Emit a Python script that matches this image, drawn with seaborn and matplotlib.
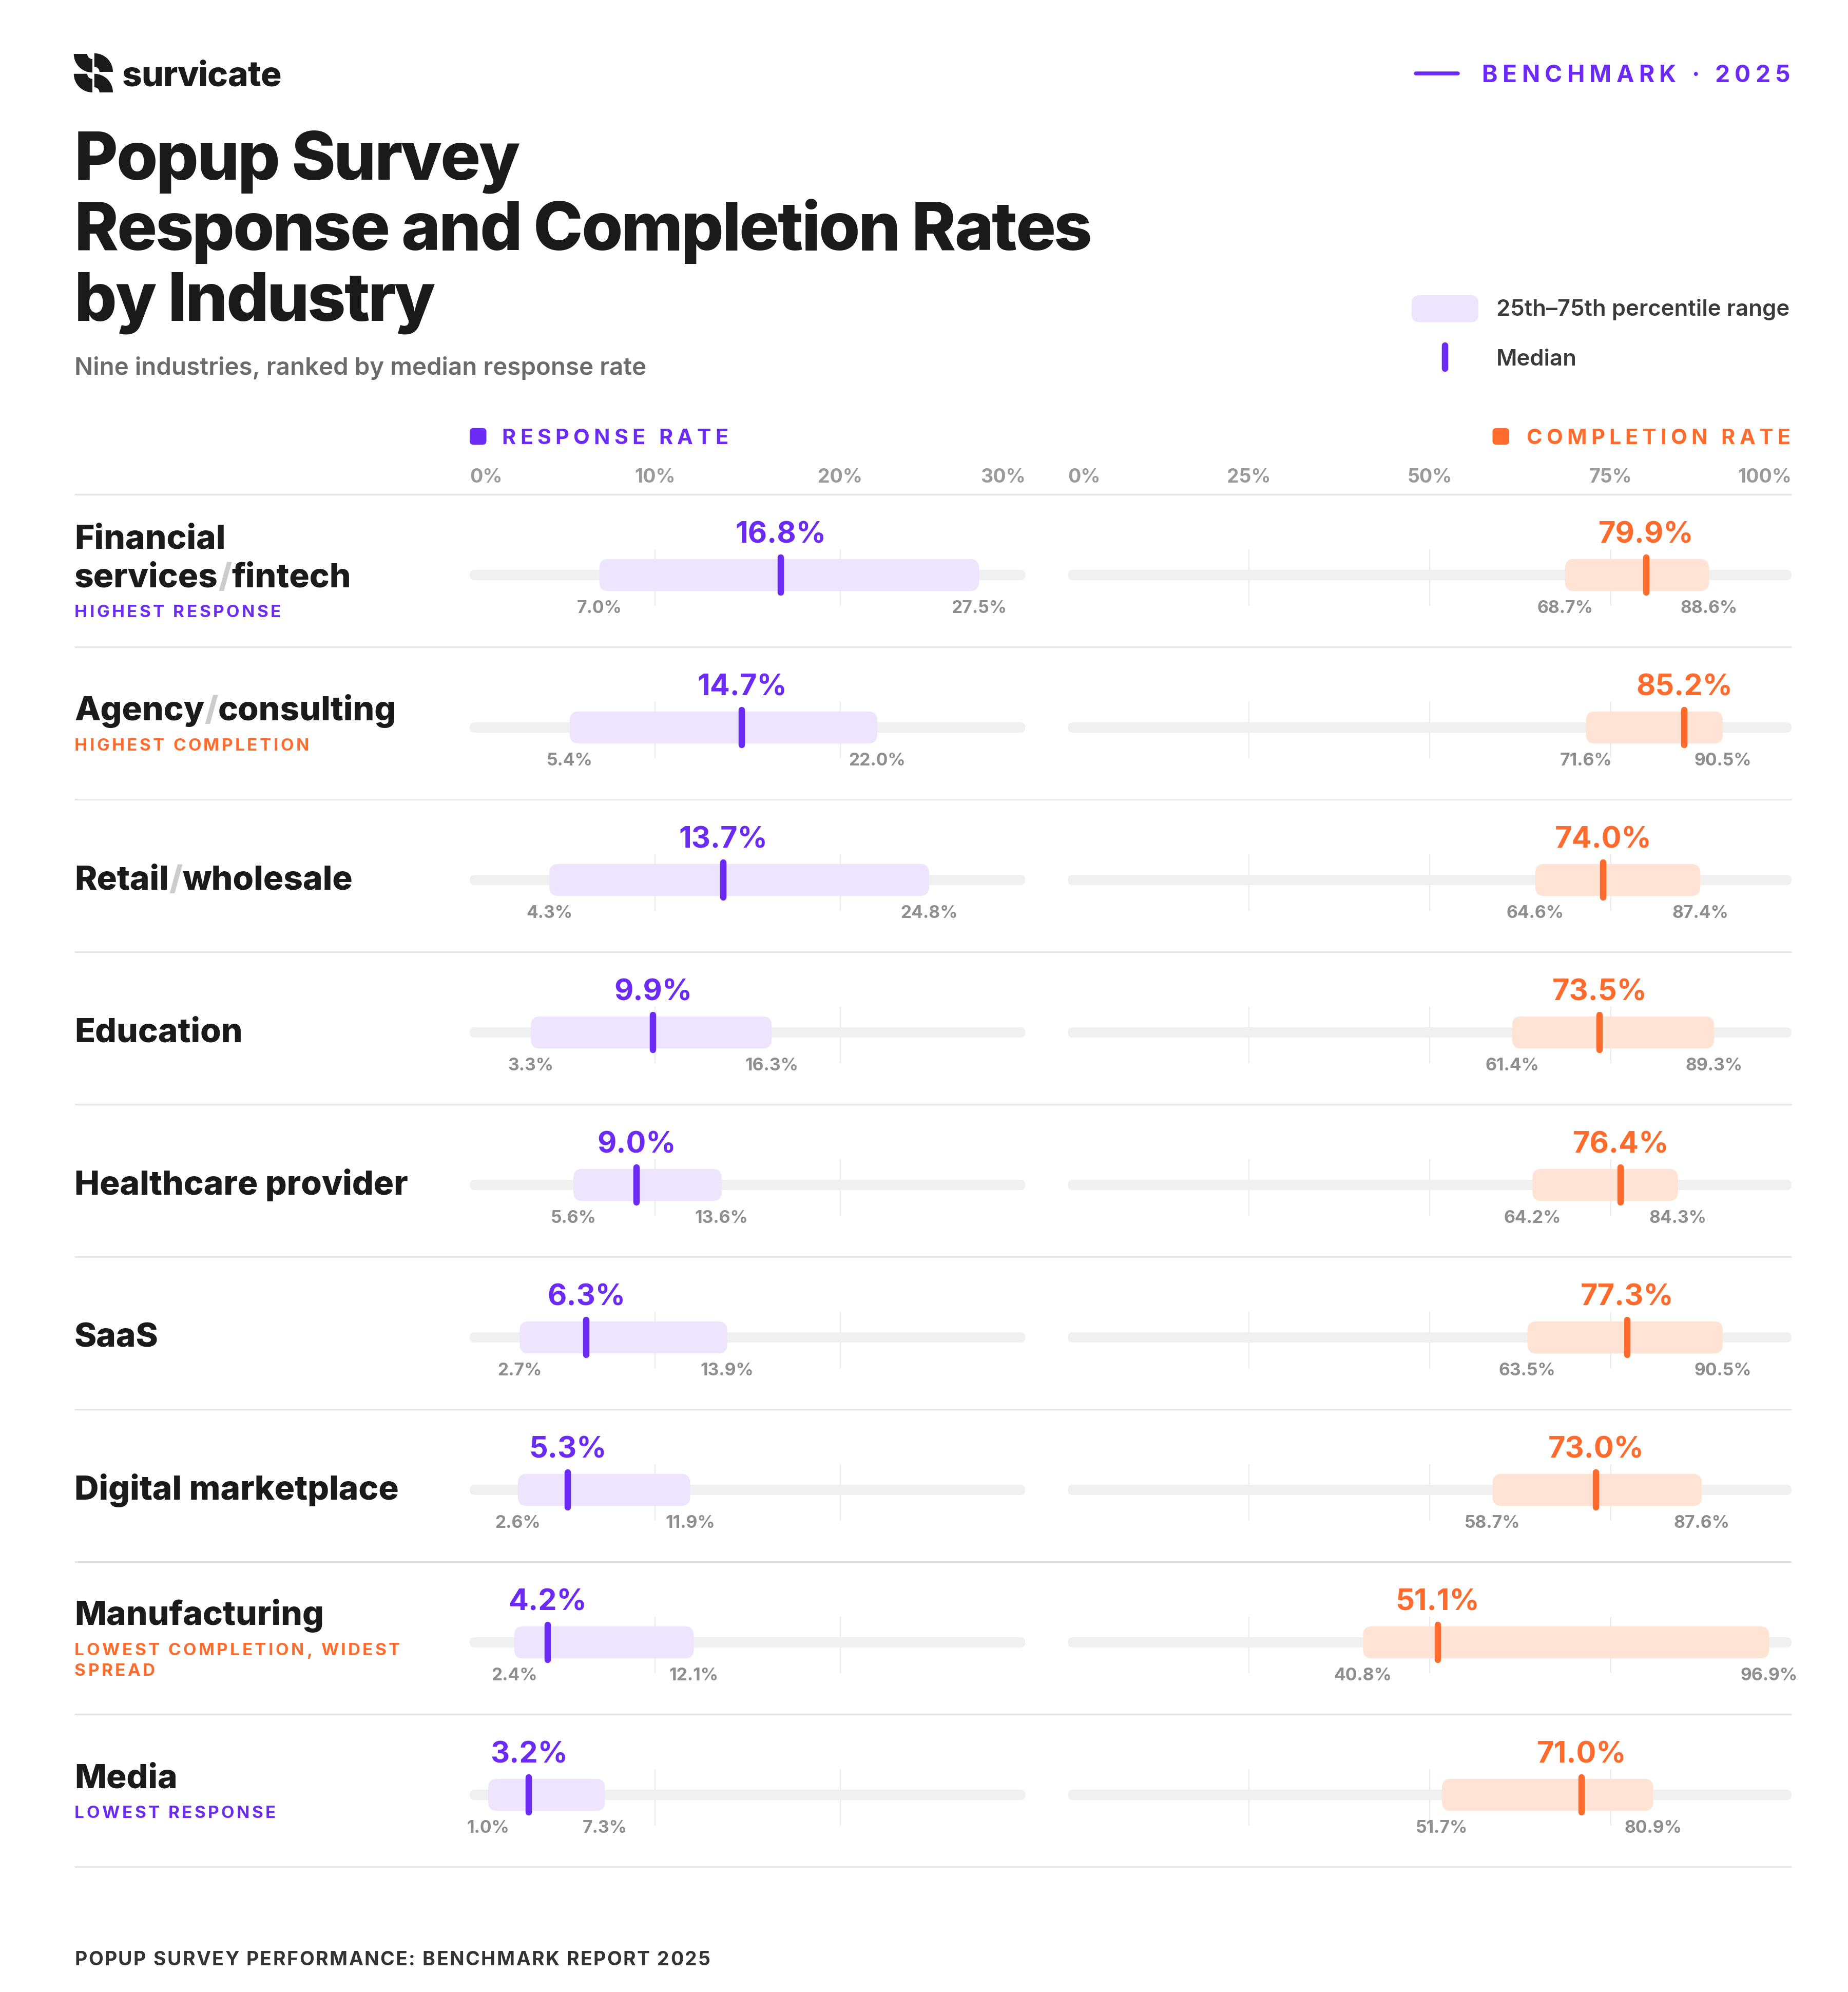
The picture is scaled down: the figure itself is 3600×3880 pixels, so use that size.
"""
Popup survey benchmark: response and completion rate ranges by industry.
"""

import matplotlib
matplotlib.use("Agg")
import numpy as np
import pandas as pd
import matplotlib.pyplot as plt
import seaborn as sns
from matplotlib.patches import FancyBboxPatch, Wedge

# ---- data -------------------------------------------------------------
industries = [
    "Financial\nservices/fintech", "Agency/consulting", "Retail/wholesale",
    "Education", "Healthcare provider", "SaaS", "Digital marketplace",
    "Manufacturing", "Media",
]
notes = [
    "HIGHEST RESPONSE", "HIGHEST COMPLETION", "", "", "", "", "",
    "LOWEST COMPLETION, WIDEST\nSPREAD", "LOWEST RESPONSE",
]
note_kind = ["response", "completion", None, None, None, None, None,
             "completion", "response"]

resp_median = [16.8, 14.7, 13.7, 9.9, 9.0, 6.3, 5.3, 4.2, 3.2]
resp_p25 = [7.0, 5.4, 4.3, 3.3, 5.6, 2.7, 2.6, 2.4, 1.0]
resp_p75 = [27.5, 22.0, 24.8, 16.3, 13.6, 13.9, 11.9, 12.1, 7.3]

comp_median = [79.9, 85.2, 74.0, 73.5, 76.4, 77.3, 73.0, 51.1, 71.0]
comp_p25 = [68.7, 71.6, 64.6, 61.4, 64.2, 63.5, 58.7, 40.8, 51.7]
comp_p75 = [88.6, 90.5, 87.4, 89.3, 84.3, 90.5, 87.6, 96.9, 80.9]

resp_ticks = [0, 10, 20, 30]
comp_ticks = [0, 25, 50, 75, 100]

# ---- style ------------------------------------------------------------
INK = "#1a1a1a"
PURPLE = "#6c2bf5"
PURPLE_LIGHT = "#ece5fd"
ORANGE = "#ff6b2c"
ORANGE_LIGHT = "#ffe4d6"
TRACK = "#f0f0f0"
RULE = "#e6e6e6"
GRID = "#ececec"
TICK = "#9a9a9a"
RANGE_TXT = "#8e8e8e"
SUB = "#6b6b6b"
DARK = "#3a3a3a"
SLASH = "#cccccc"

W, H = 1440, 1552          # layout units (1 unit = 2.5 output px)
SCALE = 2.5
PT = 0.72                  # points per layout unit
TOP, ROW_H = 385, 118.8
ROW_OFF = 63

sns.set_theme(style="white")
plt.rcParams["font.family"] = ["Inter", "DejaVu Sans"]

df = pd.DataFrame({
    "industry": industries, "note": notes, "kind": note_kind,
    "r_med": resp_median, "r_lo": resp_p25, "r_hi": resp_p75,
    "c_med": comp_median, "c_lo": comp_p25, "c_hi": comp_p75,
})

fig = plt.figure(figsize=(W / 100, H / 100), dpi=250)
fig.patch.set_facecolor("white")
bg = fig.add_axes([0, 0, 1, 1], zorder=0)
bg.set_xlim(0, W)
bg.set_ylim(H, 0)
bg.axis("off")
renderer = fig.canvas.get_renderer()

_adv_cache = {}


def advance(s, px, weight):
    key = (s, px, weight)
    if key not in _adv_cache:
        def width(t):
            tt = bg.text(0, 0, t, fontsize=px * PT, fontweight=weight)
            w = tt.get_window_extent(renderer=renderer).width
            tt.remove()
            return w
        _adv_cache[key] = (width("H" + s + "H") - width("HH")) / SCALE
    return _adv_cache[key]


def runs_text(x, y, runs, px, weight="bold", spacing=0.0, ha="left"):
    """Draw coloured text runs on a baseline, with optional letter spacing."""
    pieces = []
    for s, c in runs:
        if spacing:
            pieces += [(ch, c) for ch in s]
        else:
            pieces.append((s, c))
    widths = [advance(p, px, weight) for p, _ in pieces]
    total = sum(widths) + spacing * (len(pieces) - 1)
    if ha == "right":
        x -= total
    elif ha == "center":
        x -= total / 2
    for (p, c), w in zip(pieces, widths):
        bg.text(x, y, p, fontsize=px * PT, fontweight=weight, color=c,
                ha="left", va="baseline")
        x += w + spacing
    return total


def slash_runs(line):
    parts = line.split("/")
    runs = []
    for k, p in enumerate(parts):
        if k:
            runs.append(("/", SLASH))
        runs.append((p, INK))
    return runs


# ---- header -----------------------------------------------------------
# logo mark: four quarter discs with a small bite at the corner
for cx, cy, t1, t2 in [(72, 42, 90, 180), (73.5, 56, 270, 360),
                       (72, 57.5, 90, 180), (73.5, 72, 270, 360)]:
    bg.add_patch(Wedge((cx, cy), 14.5, t1, t2, width=10.5, color=INK, lw=0))
runs_text(95, 67, [("survicate", INK)], 27, weight="heavy", spacing=-0.3)

bg.plot([1103, 1136], [57, 57], color=PURPLE, lw=3 * PT, solid_capstyle="round")
runs_text(1395, 64, [("BENCHMARK · 2025", PURPLE)], 18.5, spacing=3.75, ha="right")

for k, line in enumerate(["Popup Survey", "Response and Completion Rates",
                          "by Industry"]):
    runs_text(58, 140 + 55 * k, [(line, INK)], 52, weight="heavy", spacing=-1.3)
runs_text(58, 292, [("Nine industries, ranked by median response rate", SUB)],
          19, weight="semibold")

# legend
bg.add_patch(FancyBboxPatch((1100, 230), 52, 21, boxstyle="round,pad=0,rounding_size=6",
                            fc=PURPLE_LIGHT, ec="none"))
runs_text(1166, 246, [("25th–75th percentile range", DARK)], 17.5, weight="semibold")
bg.vlines(1126, 269, 287, color=PURPLE, lw=5 * PT, capstyle="round")
runs_text(1166, 285, [("Median", DARK)], 17.5, weight="semibold")

# column headers
bg.add_patch(FancyBboxPatch((366, 333.5), 13, 13, boxstyle="round,pad=0,rounding_size=3",
                            fc=PURPLE, ec="none"))
runs_text(391, 346, [("RESPONSE RATE", PURPLE)], 16.5, spacing=3.3)
bg.add_patch(FancyBboxPatch((1163, 333.5), 13, 13, boxstyle="round,pad=0,rounding_size=3",
                            fc=ORANGE, ec="none"))
runs_text(1395, 346, [("COMPLETION RATE", ORANGE)], 16.5, spacing=3.3, ha="right")

# row rules
n = len(df)
bg.hlines([TOP + ROW_H * k for k in range(n + 1)], 58, 1396, color=RULE, lw=1.3 * PT)

# ---- range panels -----------------------------------------------------
panel_specs = [
    (366, 799, resp_ticks, "r", PURPLE, PURPLE_LIGHT),
    (832, 1396, comp_ticks, "c", ORANGE, ORANGE_LIGHT),
]
py = 1 / ROW_H
for x0, x1, ticks, key, dark, light in panel_specs:
    xmax = ticks[-1]
    ax = fig.add_axes([x0 / W, 1 - (TOP + ROW_H * n) / H, (x1 - x0) / W, ROW_H * n / H],
                      zorder=1)
    ax.set_xlim(0, xmax)
    ax.set_ylim(n, 0)
    ax.axis("off")
    ax.patch.set_alpha(0)
    px = xmax / (x1 - x0)
    asp = py / px

    # tick labels above the first rule
    for j, t in enumerate(ticks):
        ha = "left" if j == 0 else ("right" if j == len(ticks) - 1 else "center")
        ax.text(t, -13 * py, f"{t}%", ha=ha, va="center", fontsize=15 * PT,
                fontweight="bold", color=TICK)

    for i, row in df.iterrows():
        yc = i + ROW_OFF * py
        lo, hi, med = row[key + "_lo"], row[key + "_hi"], row[key + "_med"]
        ax.vlines(ticks[1:-1], yc - 20 * py, yc + 24 * py, color=GRID, lw=0.9 * PT, zorder=1)
        ax.add_patch(FancyBboxPatch((0, yc - 4 * py), xmax, 8 * py,
                                    boxstyle=f"round,pad=0,rounding_size={4 * px}",
                                    mutation_aspect=asp, fc=TRACK, ec="none", zorder=2))
        ax.add_patch(FancyBboxPatch((lo, yc - 12.5 * py), hi - lo, 25 * py,
                                    boxstyle=f"round,pad=0,rounding_size={7 * px}",
                                    mutation_aspect=asp, fc=light, ec="none", zorder=3))
        ax.vlines(med, yc - 13.5 * py, yc + 13.5 * py, color=dark, lw=5 * PT,
                  capstyle="round", zorder=4)
        ax.text(med, yc - 31 * py, f"{med:.1f}%", ha="center", va="center",
                fontsize=23 * PT, fontweight="bold", color=dark)
        for v in (lo, hi):
            ax.text(v, yc + 26 * py, f"{v:.1f}%", ha="center", va="center",
                    fontsize=13.5 * PT, fontweight="bold", color=RANGE_TXT)

# ---- industry names ---------------------------------------------------
NAME_PX, NOTE_PX = 26.3, 13.3
for i, row in df.iterrows():
    c = TOP + ROW_H * i + ROW_OFF - 1
    name_lines = row["industry"].split("\n")
    note_lines = row["note"].split("\n") if row["note"] else []
    centers = [30 * k for k in range(len(name_lines))]
    last = centers[-1]
    note_centers = [last + 28 + 16 * k for k in range(len(note_lines))]
    top = c - (note_centers[-1] if note_lines else last) / 2
    if not note_lines:
        top -= 1
    for line, off in zip(name_lines, centers):
        runs_text(58, top + off + 0.364 * NAME_PX, slash_runs(line), NAME_PX,
                  weight="heavy", spacing=0)
    color = PURPLE if row["kind"] == "response" else ORANGE
    for line, off in zip(note_lines, note_centers):
        runs_text(58, top + off + 0.364 * NOTE_PX, [(line, color)], NOTE_PX,
                  spacing=1.8)

# ---- footer -----------------------------------------------------------
runs_text(58, 1531, [("POPUP SURVEY PERFORMANCE: BENCHMARK REPORT 2025", "#333333")],
          15, spacing=1.0)

fig.savefig("out.png", dpi=250, facecolor="white")
plt.close(fig)
